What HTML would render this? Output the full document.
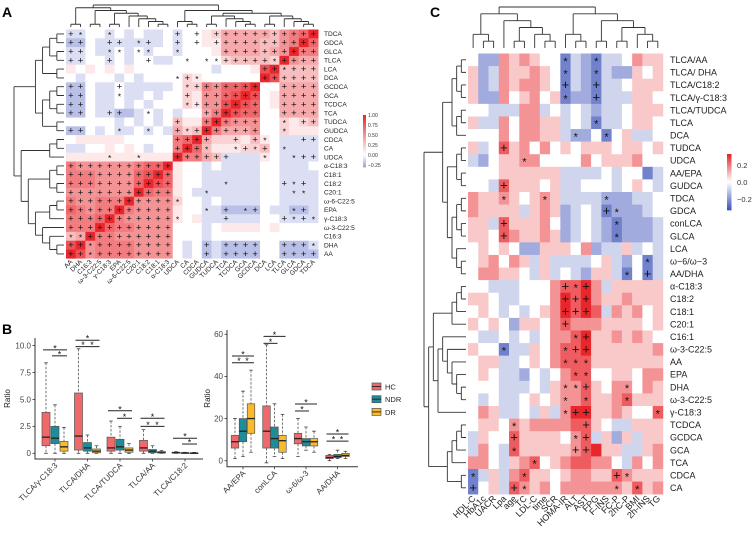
<!DOCTYPE html>
<html><head><meta charset="utf-8">
<style>
html,body{margin:0;padding:0;background:#fff;}
svg{display:block;font-family:"Liberation Sans",sans-serif;}
</style></head>
<body>
<svg id="fig" width="753" height="534" viewBox="0 0 753 534" xmlns="http://www.w3.org/2000/svg">
<rect x="0" y="0" width="753" height="534" fill="#fff"/>
<text x="2" y="17" font-size="14" font-weight="bold">A</text>
<text x="2" y="334" font-size="14" font-weight="bold">B</text>
<text x="430" y="17" font-size="14" font-weight="bold">C</text>
</svg>
<script>
// ---------- Panel A data ----------
const aLabels = ['AA','DHA','C16:3','ω-3-C22:5','γ-C18:3','EPA','ω-6-C22:5','C20:1','C18:2','C18:1','α-C18:3','UDCA','CA','CDCA','GUDCA','TUDCA','TCA','TCDCA','GCA','GCDCA','DCA','LCA','TLCA','GLCA','GDCA','TDCA'];
const aRowLabels = aLabels.slice().reverse();
const aValues = [
"CC00C0C0CC0C0012444443567X",
"BB0CCCCCCC0C001144443356X7",
"CC0CC0C0C00C00014444345X66",
"CC00C0C00CC00000233332X544",
"101010100000000C00018X3333",
"0C000C0C000021000000X83333",
"BB0CC0CCCCC02265778X004444",
"BB0CC0CC0C00215578X8014444",
"BB0CC0C0C00021558X87014444",
"BB0CCBBC0C0C0046X877004444",
"00000C0C0C03116X6555002123",
"BB0C0CC0C0C423X64445002111",
"0111110000067X42221310CCCC",
"CC001010C006X731112230CCCC",
"11111111111X6643CCCC10CCCC",
"6555555677X100C0CCCC00CCC0",
"666555578X7100CCCCCC00CCCC",
"66655557X87100CCCCCC00CCCC",
"5555555X76610CCCCCCC00CCCC",
"655666X5555200C0CCCC00CCCC",
"76566X65555100CCBBBB0CCBBC",
"6667X655555101CCCCCC00CCCC",
"666X7665555000C01111010000",
"34X66555555000C00000000000",
"8X5666655550C0BCBBBB00BBBC",
"X85666655550C0BCBBBB00BBBB"
];
const aMarks = [
"+*..*......+.+.+++++++++++",
"++..++.*+..+.+.+++++++++++",
"++..**.**..*....++++++++++",
"++..+...+...*.**+++++*++++",
"....................++*+++",
"...........*+*......++++++",
"++...+......*+++++++..++++",
"++...*......+.++++++..++++",
"++..........*+++++++..++++",
"++..++..*.....++++++..++++",
"...........+..++++++..*.++",
"++...*..*..+*+++++++..*...",
"...........++++..+.+*...++",
"...........+++*..*+*+.*...",
"....*..*...++++++...*..*++",
"+++++++++++...............",
"+++++++++++...............",
"+++++++++++.....*.....+*+.",
"+++++++++++...*........**.",
"+++++++++++*..............",
"+++++++++++...*.+.*+...*+.",
"+++++++++++*....+.....+*+*",
"+++++++++++...............",
"**+++++++++...............",
"++*++++++++...+.++++..+++*",
"++*++++++++...+.++++..++++"
];
const aColTree = [[[0,1],[[2,3],[[4,5],[6,[7,[8,[9,10]]]]]]],[[11,[12,13]],[[[14,15],[16,[17,[18,19]]]],[[20,21],[22,[23,[24,25]]]]]]];
const aRowTree = [[[[[0,1],[2,3]],[4,5]],[[[6,7],[8,9]],[10,11]]],[[[12,13],14],[[[15,16],[17,18]],[[[19,20],21],[22,[23,[24,25]]]]]]];
const aLegendTicks = [1.0,0.75,0.5,0.25,0.0,-0.25];
const aLegendText = ['1.00','0.75','0.50','0.25','0.00','−0.25'];

// ---------- Panel C data ----------
const cCols = ['HDL-C','HbA1c','UACR','Lpa','age','TC','LDL-C','time','SCR','HOMA-IR','ALT','AST','FPG','F-INS','FC-P','2hC-P','BMI','2h-INS','TG'];
const cRows = ['TLCA/AA','TLCA/ DHA','TLCA/C18:2','TLCA/γ-C18:3','TLCA/TUDCA','TLCA','DCA','TUDCA','UDCA','AA/EPA','GUDCA','TDCA','GDCA','conLCA','GLCA','LCA','ω−6/ω−3','AA/DHA','α-C18:3','C18:2','C18:1','C20:1','C16:1','ω-3-C22:5','AA','EPA','DHA','ω-3-C22:5','γ-C18:3','TCDCA','GCDCA','GCA','TCA','CDCA','CA'];
const cValues = [
"5337676552432445766","6347667652432433656","6347677652432445666","6337567562332444665",
"5544477454543445666","6447577664542445665","5557577664335256445","6458675756566656656",
"4356677555575666755","5556666664444545524","5548666564455545654","7667656764444333445",
"7666646763454233345","6648666753454323334","6658766763454323334","5656533666573446454",
"5675764644445643524","5776654645436642524","5544455578897466666","6654455579897667666",
"5654545679898476756","6565366578777666656","5445454577896676765","6552446578896666667",
"5664456578886666666","5654435457885566577","5554445467786577576","5454456567786678666",
"5764454647996676558","5665767777886544666","4655866665784636466","4754866666789664467",
"7754678567887754757","2464786656776687666","2564876757777776867"
];
const cMarks = [
".........*..*......",".........*..*......",".........+..+......",".........*..+......",
"...................","............*......","..........*..*.....","...+...............",
".....*.............","...................","...+...............","...*...*.....*.....",
".............+*....","...+..........*....","...+..........*....","...................",
".................*.","...............*.+.",".........+*+.......",".........+++.......",
".........+++.......",".........+.........","..........*+.......","...*.....*++.......",
".........***.......","..........**.......",".........**+...*...",".........*.*...*...",
".........*++......*","....*......+.......","....+.....*+.......","....*.....++.......",
"......*............","*....*........+*...","+...+*........*.*.."
];
const cColTree = [[[0,[1,2]],[3,[[4,5],[6,[7,8]]]]],[[9,[10,11]],[[12,13],[[14,15],[16,[17,18]]]]]];
const cRowTree = [[[[[0,1],[2,3]],[[4,5],6]],[[[7,8],[9,10]],[[[11,12],[13,14]],[15,[16,17]]]]],[[[[[18,19],20],21],[[22,[23,[24,[25,[26,27]]]]],28]],[[[[29,30],31],32],[33,34]]]];
const cLegendTicks = [0.2,0.0,-0.2];
const cLegendText = ['0.2','0.0','−0.2'];

// ---------- Panel B data ----------
const bCatsL = ['TLCA/γ-C18:3','TLCA/DHA','TLCA/TUDCA','TLCA/AA','TLCA/C18:2'];
const bHCL  = [[0,0.7,1.5,3.8,8.4],[0,0.3,1.6,5.6,9.7],[0,0.2,0.5,1.5,3.0],[0,0.2,0.5,1.2,2.2],[0,0.02,0.05,0.1,0.15]];
const bNDRL = [[0,0.9,1.4,2.5,4.5],[0,0.2,0.5,1.0,1.7],[0,0.3,0.6,1.3,2.5],[0,0.05,0.2,0.35,0.7],[0,0.01,0.03,0.06,0.1]];
const bDRL  = [[0,0.2,0.6,1.1,2.4],[0,0.05,0.2,0.4,0.7],[0,0.1,0.3,0.5,0.9],[0,0.02,0.1,0.15,0.25],[0,0.01,0.02,0.04,0.08]];
const bTicksL = [0,2.5,5.0,7.5,10.0];
const bTickTextL = ['0','2.5','5.0','7.5','10.0'];
const bCatsR = ['AA/EPA','conLCA','ω-6/ω-3','AA/DHA'];
const bHCR  = [[1,6,9,12,20],[-1,6,14,26,55],[2,8,10.5,13,20],[0,1,1.5,2.5,3]];
const bNDRR = [[2,9,14,20,33],[2,6,10.5,16,27],[5,7,9,10.5,16],[1,1.5,2,3,5]];
const bDRR  = [[4,13,20,27,43],[1,4,9.5,12,22],[4,7,9,10.5,14],[1,2,2.5,3.5,4.5]];
const bTicksR = [0,20,40,60];
const bTickTextR = ['0','20','40','60'];
const bSigL = [[0,0,2,9.6,1],[0,1,2,9.05,1],[1,0,2,10.5,1],[1,0,2,9.9,2],[2,0,2,3.95,1],[2,1,2,3.25,1],[3,0,2,3.25,1],[3,0,2,2.5,2],[4,0,2,1.4,1],[4,1,2,0.86,1]];
const bSigR = [[0,0,2,49.7,1],[0,0,2,46.5,2],[1,0,2,59,1],[1,0,1,55.7,1],[2,0,2,26.9,1],[2,0,1,23.6,1],[3,0,2,12.7,1],[3,0,2,9.3,2]];
const bGroups = ['HC','NDR','DR'];
const bColors = ['#f0696a','#1f8c99','#f7bb2d'];

// ---------- helpers ----------
const NS = 'http://www.w3.org/2000/svg';
const svg = document.getElementById('fig');
function mk(tag, attrs, parent){
  const el = document.createElementNS(NS, tag);
  for (const k in attrs) el.setAttribute(k, attrs[k]);
  (parent || svg).appendChild(el);
  return el;
}
function mix(c1, c2, t){
  t = Math.max(0, Math.min(1, t));
  const r = Math.round(c1[0] + (c2[0]-c1[0])*t), g = Math.round(c1[1] + (c2[1]-c1[1])*t), b = Math.round(c1[2] + (c2[2]-c1[2])*t);
  return 'rgb(' + r + ',' + g + ',' + b + ')';
}
const WHITE = [255,255,255], RED = [232,38,43], BLUEA = [150,160,220], BLUEC = [66,87,187];
function colA(v){ return v >= 0 ? mix(WHITE, RED, v) : mix(WHITE, BLUEA, -v/0.3); }
function colC(v){ return v >= 0 ? mix(WHITE, RED, v/0.32) : mix(WHITE, BLUEC, -v/0.32); }
function decA(c){ if (c === 'X') return 1; if (c === 'A') return -0.3; if (c === 'B') return -0.2; if (c === 'C') return -0.1; return (+c)/10; }
function decC(c){ return ((+c) - 5) * 0.08; }
function hgt(t){ return Array.isArray(t) ? Math.max(...t.map(hgt)) + 1 : 0; }
function dendro(tree, leafPos, base, span, orient, name){
  const H = hgt(tree);
  let d = '';
  function rec(t){
    if (!Array.isArray(t)) return {p: leafPos(t), h: 0};
    const ch = t.map(rec);
    const h = hgt(t);
    const lv = base - span * h / H;
    ch.forEach(c => {
      const cv = base - span * c.h / H;
      if (orient === 'top') d += 'M' + c.p + ',' + cv + 'V' + lv;
      else d += 'M' + cv + ',' + c.p + 'H' + lv;
    });
    const ps = ch.map(c => c.p);
    const mn = Math.min(...ps), mx = Math.max(...ps);
    if (orient === 'top') d += 'M' + mn + ',' + lv + 'H' + mx;
    else d += 'M' + lv + ',' + mn + 'V' + mx;
    return {p: (mn + mx) / 2, h: h};
  }
  rec(tree);
  const p = mk('path', {d: d, fill: 'none', stroke: '#333', 'stroke-width': 0.9});
  
  
}

// ---------- Panel A ----------
const aX0 = 66, aCW = 9.7, aY0 = 29.5, aRH = 8.8;
const aX = i => aX0 + i*aCW, aY = r => aY0 + r*aRH;
const gA = mk('g', {});


aRowLabels.forEach((rl, r) => {
  for (let c = 0; c < aLabels.length; c++){
    const v = decA(aValues[r][c] || '0');
    const cell = mk('rect', {x: aX(c), y: aY(r), width: aCW+0.3, height: aRH+0.3, fill: colA(v)}, gA);
    
    
    const m = aMarks[r][c];
    if (m === '+' || m === '*'){
      const t = mk('text', {x: aX(c)+aCW/2, y: aY(r)+aRH/2 + (m === '+' ? 3.0 : 4.0), 'font-size': m === '+' ? 9.5 : 8.5, 'text-anchor': 'middle', fill: '#111'}, gA);
      t.textContent = m;
      
      
    }
  }
  const lab = mk('text', {x: 324, y: aY(r)+aRH/2+2.3, 'font-size': 6.6, fill: '#222'});
  lab.textContent = rl;
  
  
});
aLabels.forEach((cl, c) => {
  const x = aX(c) + aCW/2 + 2, y = aY0 + 26*aRH + 4;
  const t = mk('text', {x: x, y: y, 'font-size': 6.6, 'text-anchor': 'end', fill: '#222', transform: 'rotate(-45 ' + x + ' ' + y + ')'});
  t.textContent = cl;
  
  
});
dendro(aColTree, i => aX(i)+aCW/2, 27, 22, 'top', 'col-dendrogram-a');
dendro(aRowTree, r => aY(r)+aRH/2, 64, 50, 'left', 'row-dendrogram-a');
const aLegTop = 115, aLegBot = 167;
const aLegY = v => aLegTop + (1.0 - v) / 1.3 * (aLegBot - aLegTop);
for (let k = 0; k < 26; k++){
  const v0 = 1.0 - k*0.05;
  const seg = mk('rect', {x: 363, y: aLegY(v0), width: 3, height: (aLegBot-aLegTop)/26+0.4, fill: colA(v0-0.025)});
  
  
}
aLegendTicks.forEach((v, i) => {
  const t = mk('text', {x: 368, y: aLegY(v)+2, 'font-size': 5, fill: '#333'});
  t.textContent = aLegendText[i];
  
  
});

// ---------- Panel C ----------
const cX0 = 468, cCW = 10.26, cY0 = 53.5, cRH = 12.59;
const cX = i => cX0 + i*cCW, cY = r => cY0 + r*cRH;
const gC = mk('g', {});


cRows.forEach((rl, r) => {
  for (let c = 0; c < cCols.length; c++){
    const v = decC(cValues[r][c] || '5');
    const cell = mk('rect', {x: cX(c), y: cY(r), width: cCW+0.3, height: cRH+0.3, fill: colC(v)}, gC);
    
    
    const m = (cMarks[r] || '')[c];
    if (m === '+' || m === '*'){
      const t = mk('text', {x: cX(c)+cCW/2, y: cY(r)+cRH/2 + (m === '+' ? 4 : 5), 'font-size': m === '+' ? 13 : 11, 'text-anchor': 'middle', fill: '#111'}, gC);
      t.textContent = m;
      
      
    }
  }
  const lab = mk('text', {x: 670, y: cY(r)+cRH/2+3.2, 'font-size': 9, fill: '#222'});
  lab.textContent = rl;
  
  
});
cCols.forEach((cl, c) => {
  const x = cX(c) + cCW/2 + 3, y = cY0 + 35*cRH + 5;
  const t = mk('text', {x: x, y: y, 'font-size': 9, 'text-anchor': 'end', fill: '#222', transform: 'rotate(-45 ' + x + ' ' + y + ')'});
  t.textContent = cl;
  
  
});
dendro(cColTree, i => cX(i)+cCW/2, 48, 41, 'top', 'col-dendrogram-c');
dendro(cRowTree, r => cY(r)+cRH/2, 466, 42, 'left', 'row-dendrogram-c');
const cLegTop = 154, cLegBot = 210;
const cLegY = v => cLegTop + (0.33 - v) / 0.66 * (cLegBot - cLegTop);
for (let k = 0; k < 33; k++){
  const v0 = 0.33 - k*0.02;
  const seg = mk('rect', {x: 727, y: cLegY(v0), width: 4.5, height: (cLegBot-cLegTop)/33+0.4, fill: colC(v0-0.01)});
  
  
}
cLegendTicks.forEach((v, i) => {
  const t = mk('text', {x: 737, y: cLegY(v)+3, 'font-size': 7.5, fill: '#333'});
  t.textContent = cLegendText[i];
  
  
});

// ---------- Panel B ----------
function boxPlot(cfg){
  const {cats, data, ticks, tickText, sig, xL, xR, yTop, yBot, y0, k, x0, dx, off, w, yLabX, name} = cfg;
  const Y = v => y0 - v*k;
  const g = mk('g', {});
  
  
  const ax = mk('path', {d: 'M' + xL + ',' + yTop + 'V' + yBot + 'H' + xR, fill: 'none', stroke: '#333', 'stroke-width': 1}, g);
  
  
  ticks.forEach((v, i) => {
    const tk = mk('line', {x1: xL-2.5, x2: xL, y1: Y(v), y2: Y(v), stroke: '#333', 'stroke-width': 0.8}, g);
    
    
    const tl = mk('text', {x: xL-4, y: Y(v)+2.8, 'font-size': 8, 'text-anchor': 'end', fill: '#444'}, g);
    tl.textContent = tickText[i];
    
    
  });
  const yl = mk('text', {x: yLabX, y: (yTop+yBot)/2, 'font-size': 8, 'text-anchor': 'middle', fill: '#222', transform: 'rotate(-90 ' + yLabX + ' ' + ((yTop+yBot)/2) + ')'}, g);
  yl.textContent = 'Ratio';
  
  
  cats.forEach((cat, ci) => {
    const cx = x0 + ci*dx;
    const tk = mk('line', {x1: cx, x2: cx, y1: yBot, y2: yBot+2.5, stroke: '#333', 'stroke-width': 0.8}, g);
    
    
    const tx = cx + 3, ty = yBot + 7;
    const tl = mk('text', {x: tx, y: ty, 'font-size': 8, 'text-anchor': 'end', fill: '#333', transform: 'rotate(-45 ' + tx + ' ' + ty + ')'}, g);
    tl.textContent = cat;
    
    
    data.forEach((series, gi) => {
      const [lo, q1, md, q3, hi] = series[ci];
      const bx = cx + off[gi];
      const wh = mk('path', {d: 'M' + bx + ',' + Y(hi) + 'V' + Y(q3) + 'M' + bx + ',' + Y(q1) + 'V' + Y(lo), stroke: '#555', 'stroke-width': 0.8, 'stroke-dasharray': '2.5,1.5', fill: 'none'}, g);
      
      
      const cap = mk('path', {d: 'M' + (bx-1.8) + ',' + Y(hi) + 'H' + (bx+1.8) + 'M' + (bx-1.8) + ',' + Y(lo) + 'H' + (bx+1.8), stroke: '#444', 'stroke-width': 0.8}, g);
      
      
      const bh = Math.max(Y(q1) - Y(q3), 0.8);
      const box = mk('rect', {x: bx - w/2, y: Y(q3), width: w, height: bh, fill: bColors[gi], stroke: '#555', 'stroke-width': 0.7}, g);
      
      
      const med = mk('line', {x1: bx - w/2, x2: bx + w/2, y1: Y(md), y2: Y(md), stroke: '#222', 'stroke-width': 1.3}, g);
      
      
    });
  });
  sig.forEach(([ci, a, b, v, n]) => {
    const cx = x0 + ci*dx;
    const x1 = cx + off[a] - 3, x2 = cx + off[b] + 3;
    const ln = mk('line', {x1: x1, x2: x2, y1: Y(v), y2: Y(v), stroke: '#222', 'stroke-width': 1}, g);
    
    
    const pos = n === 1 ? [(x1+x2)/2] : [cx + (off[0]+off[1])/2, cx + (off[1]+off[2])/2];
    pos.forEach(px => {
      const st = mk('text', {x: px, y: Y(v)+1.5, 'font-size': 9, 'text-anchor': 'middle', fill: '#111'}, g);
      st.textContent = '*';
      
      
    });
  });
}
boxPlot({cats: bCatsL, data: [bHCL, bNDRL, bDRL], ticks: bTicksL, tickText: bTickTextL, sig: bSigL,
  xL: 35, xR: 203, yTop: 338, yBot: 459, y0: 453.3, k: 10.77, x0: 55, dx: 32.5, off: [-9, 0, 9], w: 8, yLabX: 10, name: 'boxplot-left'});
boxPlot({cats: bCatsR, data: [bHCR, bNDRR, bDRR], ticks: bTicksR, tickText: bTickTextR, sig: bSigR,
  xL: 227, xR: 358, yTop: 330, yBot: 466.7, y0: 460.7, k: 2.107, x0: 243, dx: 31.5, off: [-8, 0, 8], w: 7.5, yLabX: 210, name: 'boxplot-right'});
bGroups.forEach((gname, i) => {
  const y = 383 + i*12.7;
  const r = mk('rect', {x: 372, y: y, width: 9, height: 7, fill: bColors[i], stroke: '#555', 'stroke-width': 0.7});
  
  
  const l = mk('line', {x1: 372, x2: 381, y1: y+3.5, y2: y+3.5, stroke: '#222', 'stroke-width': 0.9});
  
  
  const t = mk('text', {x: 385, y: y+6.5, 'font-size': 7.5, fill: '#222'});
  t.textContent = gname;
  
  
});
</script>
</body></html>
